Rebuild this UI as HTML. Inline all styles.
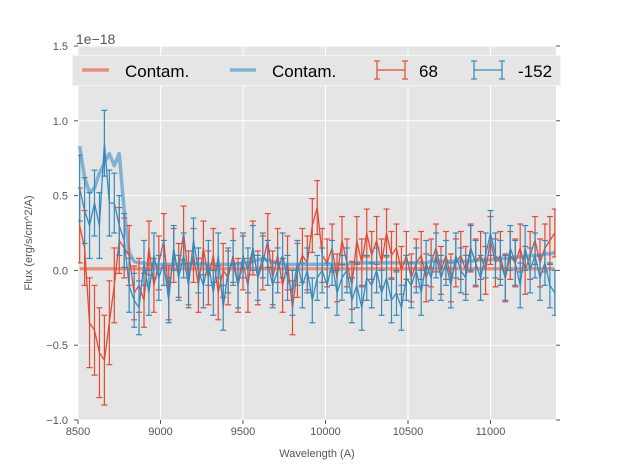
<!DOCTYPE html>
<html><head><meta charset="utf-8"><style>
body{margin:0;background:#fff;font-family:"Liberation Sans","DejaVu Sans",sans-serif}
svg{display:block}
</style></head><body>
<svg id="chart" width="617" height="467" xmlns="http://www.w3.org/2000/svg"></svg>
<script>
const waves=[8510,8540,8570,8600,8630,8660,8690,8720,8750,8780,8810,8840,8870,8900,8930,8960,8990,9020,9050,9080,9110,9140,9170,9200,9230,9260,9290,9320,9350,9380,9410,9440,9470,9500,9530,9560,9590,9620,9650,9680,9710,9740,9770,9800,9830,9860,9890,9920,9950,9980,10010,10040,10070,10100,10130,10160,10190,10220,10250,10280,10310,10340,10370,10400,10430,10460,10490,10520,10550,10580,10610,10640,10670,10700,10730,10760,10790,10820,10850,10880,10910,10940,10970,11000,11030,11060,11090,11120,11150,11180,11210,11240,11270,11300,11330,11360,11390];
const fluxRed=[0.30,0.15,-0.35,-0.40,-0.55,-0.60,-0.35,-0.10,0.20,0.15,0.10,-0.15,-0.10,-0.20,0.15,-0.10,0.05,0.20,-0.15,0.10,0.00,0.25,-0.05,0.10,-0.10,0.15,-0.05,0.10,-0.15,0.00,-0.05,0.10,-0.10,0.05,-0.10,0.15,-0.05,0.05,0.20,-0.05,0.10,-0.10,0.05,-0.25,0.00,0.10,0.05,0.30,0.42,0.10,0.05,0.15,-0.05,0.20,0.05,-0.10,0.20,0.05,0.25,0.10,0.20,0.05,0.25,0.10,0.15,0.00,0.10,-0.05,0.05,0.10,-0.05,0.05,0.15,0.00,0.10,-0.05,0.05,0.10,0.00,0.15,0.05,0.10,0.00,0.20,0.05,0.10,-0.05,0.10,0.05,0.15,0.00,0.10,0.20,0.05,0.15,0.20,0.25];
const errRed=[0.25,0.25,0.30,0.30,0.30,0.30,0.28,0.25,0.22,0.20,0.20,0.18,0.18,0.18,0.18,0.18,0.18,0.18,0.18,0.18,0.18,0.18,0.18,0.18,0.18,0.18,0.18,0.18,0.18,0.18,0.18,0.18,0.18,0.18,0.18,0.18,0.18,0.18,0.18,0.18,0.18,0.18,0.18,0.18,0.18,0.18,0.18,0.18,0.18,0.18,0.16,0.16,0.16,0.16,0.16,0.16,0.16,0.16,0.16,0.16,0.16,0.16,0.16,0.16,0.16,0.16,0.16,0.16,0.16,0.16,0.16,0.16,0.16,0.16,0.16,0.16,0.16,0.16,0.16,0.16,0.16,0.16,0.16,0.16,0.16,0.16,0.16,0.16,0.16,0.16,0.16,0.16,0.16,0.16,0.16,0.16,0.16];
const fluxBlue=[0.55,0.40,0.30,0.45,0.30,0.85,0.45,0.45,0.30,0.20,-0.10,-0.20,-0.25,0.05,-0.15,0.10,-0.05,0.05,-0.20,0.15,-0.05,0.10,-0.10,0.20,0.00,-0.10,0.05,-0.15,0.10,-0.25,0.00,0.05,-0.10,0.10,0.00,0.15,-0.05,0.10,0.05,-0.10,0.00,0.10,-0.05,-0.15,0.05,-0.10,0.00,-0.20,-0.05,0.00,-0.10,0.05,-0.15,-0.05,0.00,-0.20,-0.10,-0.25,-0.05,-0.10,0.00,-0.15,-0.05,-0.20,-0.15,-0.25,-0.05,-0.10,0.00,-0.15,0.05,-0.05,0.10,-0.05,0.05,-0.10,0.10,0.00,-0.05,0.15,0.05,-0.05,0.10,0.25,0.10,0.05,-0.05,0.15,0.05,-0.10,0.15,0.00,0.10,-0.05,0.05,-0.10,-0.15];
const errBlue=[0.22,0.22,0.22,0.22,0.22,0.22,0.22,0.20,0.20,0.18,0.18,0.18,0.18,0.15,0.15,0.15,0.15,0.15,0.15,0.15,0.15,0.15,0.15,0.15,0.15,0.15,0.15,0.15,0.15,0.15,0.15,0.15,0.15,0.15,0.15,0.15,0.15,0.15,0.15,0.15,0.15,0.15,0.15,0.15,0.15,0.15,0.15,0.15,0.15,0.15,0.15,0.15,0.15,0.15,0.15,0.15,0.15,0.15,0.15,0.15,0.15,0.15,0.15,0.15,0.15,0.15,0.15,0.15,0.15,0.15,0.15,0.15,0.15,0.15,0.15,0.15,0.15,0.15,0.15,0.15,0.15,0.15,0.15,0.15,0.15,0.15,0.15,0.15,0.15,0.15,0.15,0.15,0.15,0.15,0.15,0.15,0.15];
const contamRed=[0.01,0.01,0.01,0.01,0.01,0.01,0.01,0.01,0.01,0.01,0.01,0.01,0.01,0.01,0.01,0.01,0.01,0.01,0.01,0.01,0.01,0.01,0.01,0.01,0.01,0.01,0.01,0.01,0.01,0.01,0.01,0.01,0.01,0.01,0.01,0.01,0.01,0.01,0.01,0.01,0.01,0.01,0.01,0.01,0.01,0.01,0.01,0.01,0.01,0.01,0.01,0.01,0.01,0.01,0.01,0.01,0.01,0.01,0.01,0.01,0.01,0.01,0.01,0.01,0.01,0.01,0.01,0.01,0.01,0.01,0.01,0.01,0.01,0.01,0.01,0.01,0.01,0.01,0.01,0.01,0.01,0.01,0.01,0.01,0.01,0.01,0.01,0.01,0.01,0.01,0.01,0.01,0.01,0.01,0.01,0.01,0.01];
const contamBlue=[0.83,0.62,0.52,0.55,0.65,0.72,0.78,0.70,0.78,0.40,0.12,0.06,0.05,0.05,0.04,0.04,0.04,0.04,0.04,0.04,0.04,0.04,0.04,0.04,0.04,0.04,0.04,0.04,0.04,0.04,0.04,0.04,0.04,0.05,0.05,0.06,0.07,0.08,0.07,0.06,0.05,0.04,0.04,0.04,0.04,0.04,0.04,0.04,0.04,0.04,0.04,0.04,0.04,0.04,0.04,0.05,0.05,0.05,0.05,0.05,0.05,0.05,0.05,0.05,0.05,0.05,0.05,0.05,0.05,0.05,0.05,0.06,0.06,0.06,0.06,0.06,0.06,0.06,0.06,0.06,0.07,0.07,0.07,0.07,0.08,0.08,0.08,0.08,0.09,0.09,0.09,0.10,0.10,0.10,0.11,0.11,0.12];
const xTicks=[8500,9000,9500,10000,10500,11000];
const yTicks=[-1.0,-0.5,0.0,0.5,1.0,1.5];
const yTickLabels=["−1.0","−0.5","0.0","0.5","1.0","1.5"];

const L=78,R=556,T=46,B=420,XMIN=8500,XMAX=11397,YMIN=-1,YMAX=1.5;
const X=v=>L+(v-XMIN)/(XMAX-XMIN)*(R-L);
const Y=v=>B-(v-YMIN)/(YMAX-YMIN)*(B-T);
const NS="http://www.w3.org/2000/svg";
const svg=document.getElementById('chart');
function mk(tag,attrs,parent){const e=document.createElementNS(NS,tag);for(const k in attrs)e.setAttribute(k,attrs[k]);(parent||svg).appendChild(e);return e;}

const bg=mk('rect',{x:L,y:T,width:R-L,height:B-T,fill:'#e5e5e5'});


const grid=mk('g',{stroke:'#fff','stroke-width':1});


const ticks=mk('g',{stroke:'#555','stroke-width':1});


xTicks.forEach(t=>{const x=X(t);mk('line',{x1:x,x2:x,y1:T,y2:B},grid);mk('line',{x1:x,x2:x,y1:B,y2:B+4},ticks);
 const tx=mk('text',{x:x,y:B+15,'text-anchor':'middle','font-size':11,fill:'#555'});tx.textContent=t;
 
 });
yTicks.forEach((t,i)=>{const y=Y(t);mk('line',{x1:L,x2:R,y1:y,y2:y},grid);mk('line',{x1:L-4,x2:L,y1:y,y2:y},ticks);mk('line',{x1:R,x2:R+4,y1:y,y2:y},ticks);
 const tx=mk('text',{x:L-10,y:y+4,'text-anchor':'end','font-size':11,fill:'#555'});tx.textContent=yTickLabels[i];
 
 });

const clip=mk('clipPath',{id:'pc'});mk('rect',{x:L,y:T,width:R-L,height:B-T},clip);
const plot=mk('g',{'clip-path':'url(#pc)'});
function line(vals,color,w,op,name){const d=vals.map((v,i)=>(i?'L':'M')+X(waves[i]).toFixed(1)+','+Y(v).toFixed(1)).join('');
 const p=mk('path',{d:d,fill:'none',stroke:color,'stroke-width':w,opacity:op,'stroke-linejoin':'round'},plot);
 
 }
function errs(vals,er,color,name){const g=mk('g',{stroke:color,'stroke-width':1.2},plot);
 
 
 vals.forEach((v,i)=>{const x=X(waves[i]),y1=Y(v-er[i]),y2=Y(v+er[i]);
  mk('line',{x1:x,x2:x,y1:y1,y2:y2},g);mk('line',{x1:x-3,x2:x+3,y1:y1,y2:y1},g);mk('line',{x1:x-3,x2:x+3,y1:y2,y2:y2},g);});}
line(contamRed,'#e8806d',3.5,0.85,'contam-red-line');
line(contamBlue,'#6fa8cf',3.5,0.85,'contam-blue-line');
errs(fluxRed,errRed,'#e24a33','errorbars-68');
line(fluxRed,'#e24a33',1.3,1,'flux-68-line');
errs(fluxBlue,errBlue,'#348abd','errorbars-152');
line(fluxBlue,'#348abd',1.3,1,'flux-152-line');

const off=mk('text',{x:76,y:44,'font-size':14,fill:'#555'});off.textContent='1e−18';


const xl=mk('text',{x:(L+R)/2,y:457,'text-anchor':'middle','font-size':11,fill:'#555'});xl.textContent='Wavelength (A)';


const yl=mk('text',{x:32,y:(T+B)/2+10,'text-anchor':'middle','font-size':11,fill:'#555',transform:`rotate(-90 32 ${(T+B)/2+10})`});yl.textContent='Flux (erg/s/cm^2/A)';



const leg=mk('g',{});


mk('rect',{x:72.5,y:55.5,width:488,height:30,fill:'#e5e5e5',stroke:'#f4f4f4'},leg);
function legText(x,t,n){const e=mk('text',{x:x,y:77,'font-size':17,fill:'#000'},leg);e.textContent=t;
 
 }
mk('line',{x1:82,x2:109,y1:70,y2:70,stroke:'#e8806d','stroke-width':3.5,opacity:0.85},leg);
legText(125,'Contam.','legend-entry-contam-red');
mk('line',{x1:230,x2:256,y1:70,y2:70,stroke:'#6fa8cf','stroke-width':3.5,opacity:0.85},leg);
legText(272,'Contam.','legend-entry-contam-blue');
function legErr(x,c){const g=mk('g',{stroke:c,'stroke-width':1.2},leg);mk('line',{x1:x,x2:x+28,y1:70,y2:70},g);mk('line',{x1:x,x2:x,y1:61,y2:79},g);mk('line',{x1:x+28,x2:x+28,y1:61,y2:79},g);mk('line',{x1:x-3,x2:x+3,y1:61,y2:61},g);mk('line',{x1:x-3,x2:x+3,y1:79,y2:79},g);mk('line',{x1:x+25,x2:x+31,y1:61,y2:61},g);mk('line',{x1:x+25,x2:x+31,y1:79,y2:79},g);}
legErr(377,'#e24a33');legText(419,'68','legend-entry-68');
legErr(474,'#348abd');legText(518,'-152','legend-entry-152');
</script>
</body></html>
